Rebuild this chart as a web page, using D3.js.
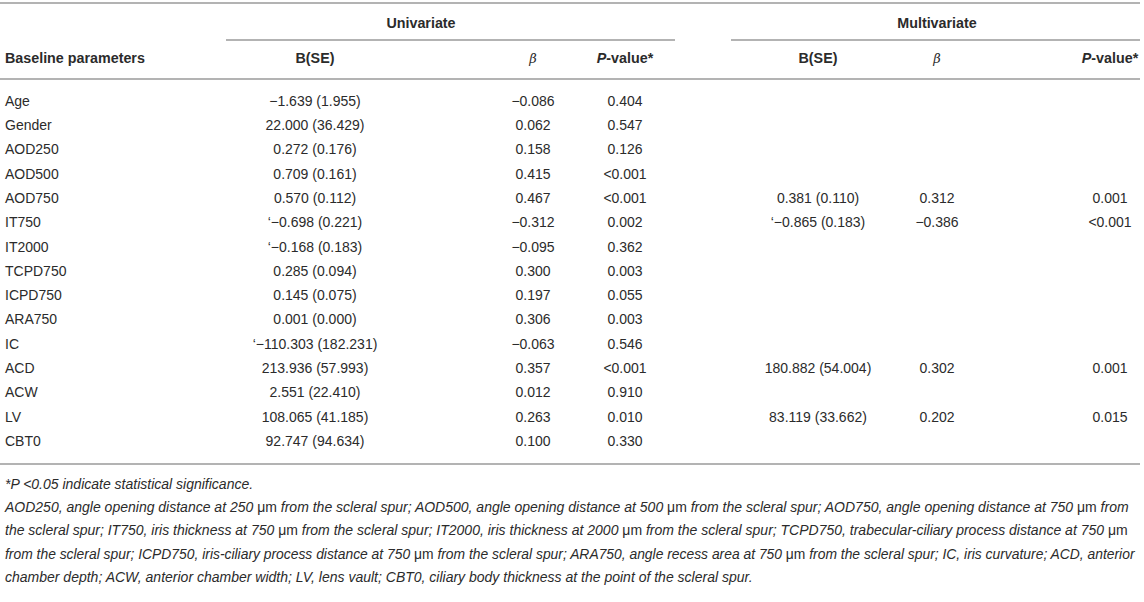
<!DOCTYPE html>
<html>
<head>
<meta charset="utf-8">
<script src="https://cdn.jsdelivr.net/npm/d3@7/dist/d3.min.js"></script>
<style>
  html, body { margin: 0; padding: 0; background: #fff; }
  svg { display: block; }
  text { font-family: "Liberation Sans", Arial, Helvetica, sans-serif; }
</style>
</head>
<body>
<svg id="chart" width="1144" height="602"></svg>
<script>
// ---------- data ----------
const params = ["Age","Gender","AOD250","AOD500","AOD750","IT750","IT2000","TCPD750","ICPD750","ARA750","IC","ACD","ACW","LV","CBT0"];
const uniB = ["\u22121.639 (1.955)","22.000 (36.429)","0.272 (0.176)","0.709 (0.161)","0.570 (0.112)","\u2018\u22120.698 (0.221)","\u2018\u22120.168 (0.183)","0.285 (0.094)","0.145 (0.075)","0.001 (0.000)","\u2018\u2212110.303 (182.231)","213.936 (57.993)","2.551 (22.410)","108.065 (41.185)","92.747 (94.634)"];
const uniBeta = ["\u22120.086","0.062","0.158","0.415","0.467","\u22120.312","\u22120.095","0.300","0.197","0.306","\u22120.063","0.357","0.012","0.263","0.100"];
const uniP = ["0.404","0.547","0.126","<0.001","<0.001","0.002","0.362","0.003","0.055","0.003","0.546","<0.001","0.910","0.010","0.330"];
const multiB = ["","","","","0.381 (0.110)","\u2018\u22120.865 (0.183)","","","","","","180.882 (54.004)","","83.119 (33.662)",""];
const multiBeta = ["","","","","0.312","\u22120.386","","","","","","0.302","","0.202",""];
const multiP = ["","","","","0.001","<0.001","","","","","","0.001","","0.015",""];
const groups = ["Univariate","Multivariate"];
const footnotes = [
  "*P <0.05 indicate statistical significance.",
  "AOD250, angle opening distance at 250 \u03bcm from the scleral spur; AOD500, angle opening distance at 500 \u03bcm from the scleral spur; AOD750, angle opening distance at 750 \u03bcm from",
  "the scleral spur; IT750, iris thickness at 750 \u03bcm from the scleral spur; IT2000, iris thickness at 2000 \u03bcm from the scleral spur; TCPD750, trabecular-ciliary process distance at 750 \u03bcm",
  "from the scleral spur; ICPD750, iris-ciliary process distance at 750 \u03bcm from the scleral spur; ARA750, angle recess area at 750 \u03bcm from the scleral spur; IC, iris curvature; ACD, anterior",
  "chamber depth; ACW, anterior chamber width; LV, lens vault; CBT0, ciliary body thickness at the point of the scleral spur."
];

// ---------- layout ----------
const svg = d3.select("#chart");
const lineColor = "#b3b3b3";
const txt = "#2b2b2b";

const y = d3.scalePoint().domain(params).range([101, 441]);
const colX = d3.scaleOrdinal()
  .domain(["uB","uBeta","uP","mB","mBeta","mP"])
  .range([315, 533, 625, 818, 937, 1110]);

function hline(x1, x2, yy) {
  svg.append("line").attr("x1", x1).attr("x2", x2).attr("y1", yy).attr("y2", yy)
    .attr("stroke", lineColor).attr("stroke-width", 2);
}
hline(0, 1140, 3);
hline(226, 675, 40);
hline(731, 1140, 40);
hline(0, 1140, 79);
hline(0, 1140, 464);

// group headers
svg.selectAll("text.grp").data(groups).join("text")
  .attr("class", "grp")
  .attr("x", (d, i) => i === 0 ? 421 : 937)
  .attr("y", 23).attr("dy", "0.35em")
  .attr("text-anchor", "middle")
  .attr("font-weight", "bold").attr("font-size", 14.3).attr("fill", txt)
  .text(d => d);

// column headers
const hy = 58;
svg.append("text").attr("x", 5).attr("y", hy).attr("dy", "0.35em")
  .attr("font-weight", "bold").attr("font-size", 14.3).attr("fill", txt)
  .text("Baseline parameters");

function header(key, kind) {
  const t = svg.append("text").attr("x", colX(key)).attr("y", hy).attr("dy", "0.35em")
    .attr("text-anchor", "middle").attr("font-weight", "bold").attr("font-size", 14.3).attr("fill", txt);
  if (kind === "B") t.text("B(SE)");
  else if (kind === "beta") t.append("tspan").attr("font-style", "italic").attr("font-family", "DejaVu Serif").attr("font-weight", "normal").attr("font-size", 13).text("\u03b2");
  else {
    t.append("tspan").attr("font-style", "italic").text("P");
    t.append("tspan").text("-value*");
  }
}
header("uB", "B"); header("uBeta", "beta"); header("uP", "P");
header("mB", "B"); header("mBeta", "beta"); header("mP", "P");

// body
const fs = 14;
svg.selectAll("text.param").data(params).join("text")
  .attr("class", "param").attr("x", 5).attr("y", d => y(d)).attr("dy", "0.35em")
  .attr("font-size", fs).attr("fill", txt).text(d => d);

function column(arr, key) {
  svg.selectAll("text.c-" + key).data(arr.map((v, i) => ({v, p: params[i]})))
    .join("text").attr("class", "c-" + key)
    .attr("x", colX(key)).attr("y", d => y(d.p)).attr("dy", "0.35em")
    .attr("text-anchor", "middle").attr("font-size", fs).attr("fill", txt)
    .text(d => d.v);
}
column(uniB, "uB"); column(uniBeta, "uBeta"); column(uniP, "uP");
column(multiB, "mB"); column(multiBeta, "mBeta"); column(multiP, "mP");

// footnotes
const fy = d3.scalePoint().domain(d3.range(footnotes.length)).range([484, 577]);
const maxW = 1131;
footnotes.forEach((line, i) => {
  const t = svg.append("text").attr("x", 5).attr("y", fy(i)).attr("dy", "0.35em")
    .attr("font-size", 14).attr("font-style", "italic").attr("fill", txt);
  const parts = line.split("\u03bcm");
  parts.forEach((p, j) => {
    t.append("tspan").text(p);
    if (j < parts.length - 1) t.append("tspan").attr("font-style", "normal").text("\u03bcm");
  });
  const w = t.node().getComputedTextLength();
  if (w > maxW) t.attr("font-size", 14 * maxW / w);
});
</script>
</body>
</html>
